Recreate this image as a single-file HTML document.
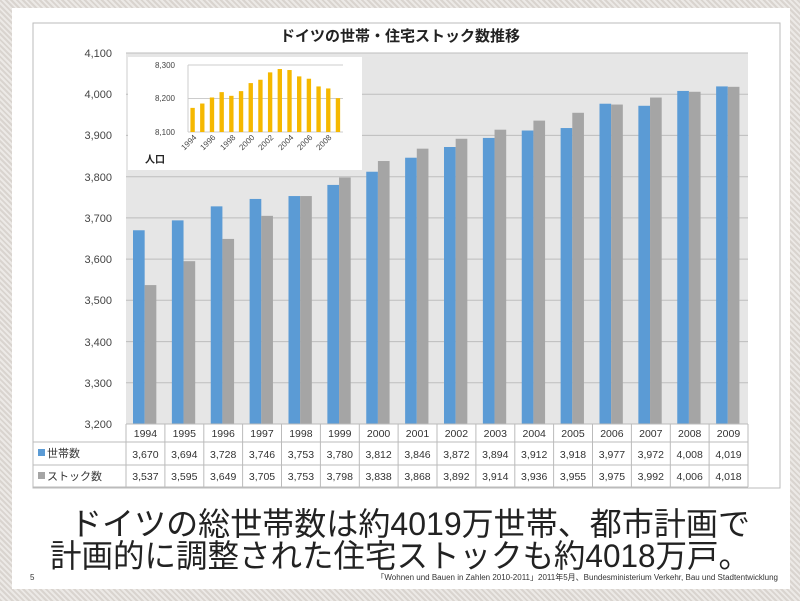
<!DOCTYPE html>
<html><head><meta charset="utf-8"><style>
body{margin:0;width:800px;height:601px;overflow:hidden;background:repeating-linear-gradient(45deg,#d9d4cf 0 2px,#ece9e6 2px 4px);font-family:"Liberation Sans","Noto Sans CJK JP",sans-serif}
</style></head><body>
<svg width="800" height="601" style="position:absolute;left:0;top:0" font-family="Liberation Sans, Noto Sans CJK JP, sans-serif">
<rect x="12" y="8" width="778" height="581" fill="#fff"/>
<rect x="33" y="23" width="747" height="465" fill="#fff" stroke="#bbb"/>
<rect x="126" y="53" width="622" height="371" fill="#e6e6e6"/>
<g stroke="#bdbdbd" stroke-width="1">
<line x1="126" x2="748" y1="53" y2="53"/><line x1="126" x2="748" y1="94.2" y2="94.2"/><line x1="126" x2="748" y1="135.4" y2="135.4"/><line x1="126" x2="748" y1="176.7" y2="176.7"/><line x1="126" x2="748" y1="217.9" y2="217.9"/><line x1="126" x2="748" y1="259.1" y2="259.1"/><line x1="126" x2="748" y1="300.3" y2="300.3"/><line x1="126" x2="748" y1="341.6" y2="341.6"/><line x1="126" x2="748" y1="382.8" y2="382.8"/>
</g>
<g font-size="11" fill="#444" text-anchor="end">
<text x="112" y="57">4,100</text><text x="112" y="98">4,000</text><text x="112" y="139">3,900</text><text x="112" y="181">3,800</text><text x="112" y="222">3,700</text><text x="112" y="263">3,600</text><text x="112" y="304">3,500</text><text x="112" y="346">3,400</text><text x="112" y="387">3,300</text><text x="112" y="428">3,200</text>
</g>
<text x="400" y="41" font-size="15" font-weight="bold" text-anchor="middle" fill="#222">ドイツの世帯・住宅ストック数推移</text>
<g transform="translate(126,424) scale(38.875,-0.4122)">
<g fill="#5b9bd5">
<rect x="0.18" width="0.3" height="470"/><rect x="1.18" width="0.3" height="494"/><rect x="2.18" width="0.3" height="528"/><rect x="3.18" width="0.3" height="546"/><rect x="4.18" width="0.3" height="553"/><rect x="5.18" width="0.3" height="580"/><rect x="6.18" width="0.3" height="612"/><rect x="7.18" width="0.3" height="646"/><rect x="8.18" width="0.3" height="672"/><rect x="9.18" width="0.3" height="694"/><rect x="10.18" width="0.3" height="712"/><rect x="11.18" width="0.3" height="718"/><rect x="12.18" width="0.3" height="777"/><rect x="13.18" width="0.3" height="772"/><rect x="14.18" width="0.3" height="808"/><rect x="15.18" width="0.3" height="819"/>
</g>
<g fill="#a5a5a5">
<rect x="0.48" width="0.3" height="337"/><rect x="1.48" width="0.3" height="395"/><rect x="2.48" width="0.3" height="449"/><rect x="3.48" width="0.3" height="505"/><rect x="4.48" width="0.3" height="553"/><rect x="5.48" width="0.3" height="598"/><rect x="6.48" width="0.3" height="638"/><rect x="7.48" width="0.3" height="668"/><rect x="8.48" width="0.3" height="692"/><rect x="9.48" width="0.3" height="714"/><rect x="10.48" width="0.3" height="736"/><rect x="11.48" width="0.3" height="755"/><rect x="12.48" width="0.3" height="775"/><rect x="13.48" width="0.3" height="792"/><rect x="14.48" width="0.3" height="806"/><rect x="15.48" width="0.3" height="818"/>
</g>
</g>
<rect x="128" y="57" width="234" height="113" fill="#fff"/>
<g stroke="#ccc"><line x1="188" x2="343" y1="65" y2="65"/><line x1="188" x2="343" y1="98.5" y2="98.5"/><line x1="188" x2="343" y1="132" y2="132"/><line x1="188" x2="188" y1="65" y2="132"/></g>
<g font-size="8" fill="#444" text-anchor="end"><text x="175" y="68">8,300</text><text x="175" y="101">8,200</text><text x="175" y="135">8,100</text></g>
<g transform="translate(188,132) scale(9.69,-0.335)" fill="#f5b800">
<rect x="0.25" width="0.45" height="72"/><rect x="1.25" width="0.45" height="85"/><rect x="2.25" width="0.45" height="103"/><rect x="3.25" width="0.45" height="119"/><rect x="4.25" width="0.45" height="108"/><rect x="5.25" width="0.45" height="122"/><rect x="6.25" width="0.45" height="146"/><rect x="7.25" width="0.45" height="156"/><rect x="8.25" width="0.45" height="178"/><rect x="9.25" width="0.45" height="188"/><rect x="10.25" width="0.45" height="185"/><rect x="11.25" width="0.45" height="166"/><rect x="12.25" width="0.45" height="159"/><rect x="13.25" width="0.45" height="136"/><rect x="14.25" width="0.45" height="130"/><rect x="15.25" width="0.45" height="101"/>
</g>
<g font-size="8" fill="#444" text-anchor="end">
<text transform="translate(197,138) rotate(-45)">1994</text><text transform="translate(216,138) rotate(-45)">1996</text><text transform="translate(236,138) rotate(-45)">1998</text><text transform="translate(255,138) rotate(-45)">2000</text><text transform="translate(274,138) rotate(-45)">2002</text><text transform="translate(294,138) rotate(-45)">2004</text><text transform="translate(313,138) rotate(-45)">2006</text><text transform="translate(332,138) rotate(-45)">2008</text>
</g>
<text x="145" y="163" font-size="10" font-weight="bold" fill="#222">人口</text>
<g stroke="#bbb" fill="none">
<line x1="126" x2="748" y1="424" y2="424"/><line x1="33" x2="748" y1="442" y2="442"/><line x1="33" x2="748" y1="465" y2="465"/><line x1="33" x2="748" y1="487" y2="487"/>
<line x1="33" x2="33" y1="442" y2="487"/>
<line x1="126" x2="126" y1="424" y2="487"/><line x1="164.9" x2="164.9" y1="424" y2="487"/><line x1="203.8" x2="203.8" y1="424" y2="487"/><line x1="242.6" x2="242.6" y1="424" y2="487"/><line x1="281.5" x2="281.5" y1="424" y2="487"/><line x1="320.4" x2="320.4" y1="424" y2="487"/><line x1="359.3" x2="359.3" y1="424" y2="487"/><line x1="398.1" x2="398.1" y1="424" y2="487"/><line x1="437" x2="437" y1="424" y2="487"/><line x1="475.9" x2="475.9" y1="424" y2="487"/><line x1="514.8" x2="514.8" y1="424" y2="487"/><line x1="553.6" x2="553.6" y1="424" y2="487"/><line x1="592.5" x2="592.5" y1="424" y2="487"/><line x1="631.4" x2="631.4" y1="424" y2="487"/><line x1="670.3" x2="670.3" y1="424" y2="487"/><line x1="709.1" x2="709.1" y1="424" y2="487"/><line x1="748" x2="748" y1="424" y2="487"/>
</g>
<rect x="38" y="449" width="7" height="7" fill="#5b9bd5"/><rect x="38" y="472" width="7" height="7" fill="#a5a5a5"/>
<g font-size="11" fill="#333"><text x="47" y="457">世帯数</text><text x="47" y="480">ストック数</text></g>
<g font-size="10.5" fill="#333" text-anchor="middle">
<g transform="translate(145.4,437)"><text x="0">1994</text><text x="38.875">1995</text><text x="77.75">1996</text><text x="116.6">1997</text><text x="155.5">1998</text><text x="194.4">1999</text><text x="233.2">2000</text><text x="272.1">2001</text><text x="311">2002</text><text x="349.9">2003</text><text x="388.8">2004</text><text x="427.6">2005</text><text x="466.5">2006</text><text x="505.4">2007</text><text x="544.3">2008</text><text x="583.1">2009</text></g>
<g transform="translate(145.4,458)"><text x="0">3,670</text><text x="38.875">3,694</text><text x="77.75">3,728</text><text x="116.6">3,746</text><text x="155.5">3,753</text><text x="194.4">3,780</text><text x="233.2">3,812</text><text x="272.1">3,846</text><text x="311">3,872</text><text x="349.9">3,894</text><text x="388.8">3,912</text><text x="427.6">3,918</text><text x="466.5">3,977</text><text x="505.4">3,972</text><text x="544.3">4,008</text><text x="583.1">4,019</text></g>
<g transform="translate(145.4,480)"><text x="0">3,537</text><text x="38.875">3,595</text><text x="77.75">3,649</text><text x="116.6">3,705</text><text x="155.5">3,753</text><text x="194.4">3,798</text><text x="233.2">3,838</text><text x="272.1">3,868</text><text x="311">3,892</text><text x="349.9">3,914</text><text x="388.8">3,936</text><text x="427.6">3,955</text><text x="466.5">3,975</text><text x="505.4">3,992</text><text x="544.3">4,006</text><text x="583.1">4,018</text></g>
</g>
<g font-size="32" fill="#222" text-anchor="middle">
<text x="410" y="535" textLength="680" lengthAdjust="spacingAndGlyphs">ドイツの総世帯数は約4019万世帯、都市計画で</text>
<text x="400" y="567" textLength="700" lengthAdjust="spacingAndGlyphs">計画的に調整された住宅ストックも約4018万戸。</text>
</g>
<text x="30" y="580" font-size="8" fill="#333">5</text>
<text x="778" y="580" font-size="8" fill="#333" text-anchor="end">「Wohnen und Bauen in Zahlen 2010-2011」2011年5月、Bundesministerium Verkehr, Bau und Stadtentwicklung</text>
</svg>
</body></html>
